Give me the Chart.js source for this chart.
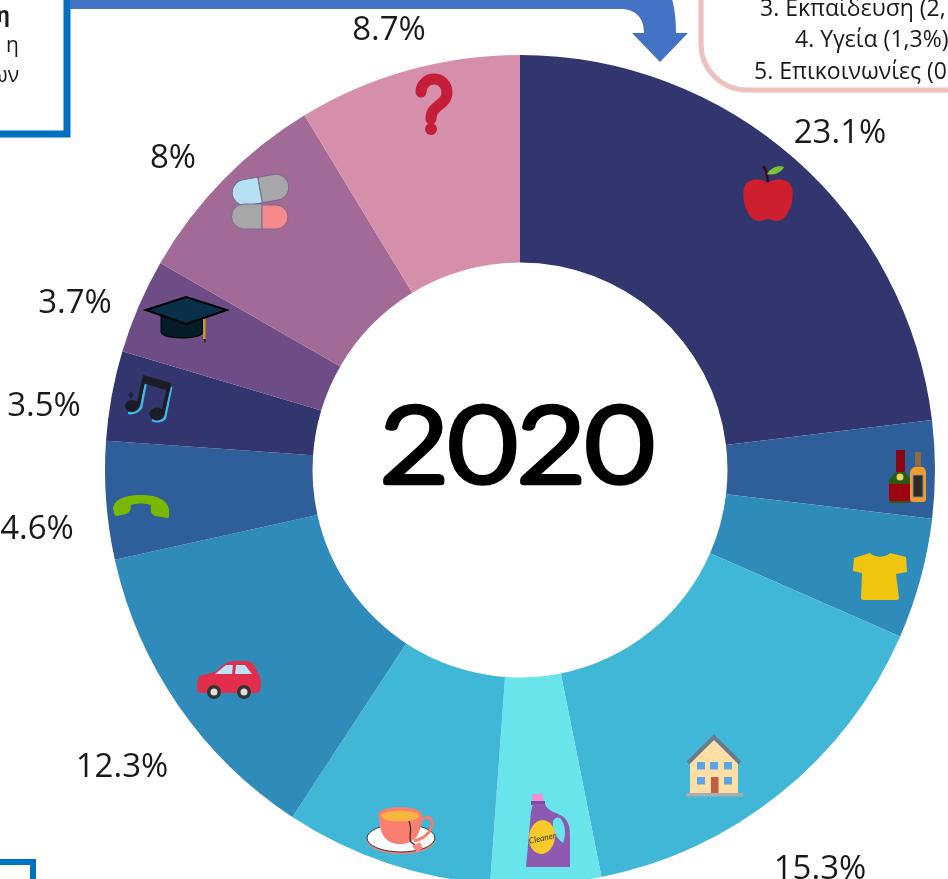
<!DOCTYPE html>
<html lang="el">
<head>
<meta charset="utf-8">
<title>2020</title>
<script src="https://cdn.jsdelivr.net/npm/chart.js@4"></script>
<style>
html,body{margin:0;padding:0;width:948px;height:879px;overflow:hidden;background:#fff}
#stage{position:relative;width:948px;height:879px;overflow:hidden}
canvas{position:absolute;left:0;top:0}
svg{position:absolute;left:0;top:0}
</style>
</head>
<body>
<div id="stage">
<canvas id="c" width="1040" height="940"></canvas>
<svg id="o" width="948" height="879" viewBox="0 0 948 879" xmlns="http://www.w3.org/2000/svg">
  <!-- annotation boxes -->
  <rect x="-20" y="-20" width="87" height="154" fill="#fff" stroke="#0070C0" stroke-width="7"/>
  <g font-family="'Open Sans'" font-size="21" fill="#1a1a1a">
    <text x="10" y="22" text-anchor="end" font-weight="700">η</text>
    <text x="19" y="52" text-anchor="end">η</text>
    <text x="19" y="82" text-anchor="end">ων</text>
  </g>
  <path d="M70,-30 H640 C662,-30 676,-10 676,33 H688 L660,62 L632,33 H644 C644,16 634,9 620,9 H70 Z" fill="#4472C4"/>
  <rect x="701" y="-60" width="320" height="150" rx="46" ry="46" fill="#fff" stroke="#EFC0BE" stroke-width="5"/>
  <g font-family="'Open Sans'" font-size="23" fill="#1a1a1a">
    <text x="760" y="16">3. Εκπαίδευση (2,</text>
    <text x="795" y="47">4. Υγεία (1,3%)</text>
    <text x="754" y="79">5. Επικοινωνίες (0</text>
  </g>
  <path d="M-10,862 H33 V890" fill="none" stroke="#0070C0" stroke-width="6"/>

  <!-- centre title -->
  <text x="517" y="482" text-anchor="middle" font-family="Lato" font-weight="300" font-size="104" textLength="274" lengthAdjust="spacingAndGlyphs" fill="#000" stroke="#000" stroke-width="6.5" stroke-linejoin="round" stroke-linecap="round">2020</text>

  <!-- apple -->
  <path d="M768,183 C760,177 747,178 744,188 C741,200 748,221 759,221 C763,221 765,219 768,219 C771,219 773,221 777,221 C788,221 795,200 792,188 C789,178 776,177 768,183 Z" fill="#CE1F2E"/>
  <path d="M763,166 C767,170 767,175 768,182" fill="none" stroke="#3d0a10" stroke-width="2.5"/>
  <path d="M767,174 C771,167 779,165 784,167 C781,173 773,176 767,174 Z" fill="#79C23A"/>

  <!-- bottles -->
  <rect x="896" y="450" width="9" height="24" fill="#8a0512"/>
  <path d="M896,472 H905 L911,480 V500 Q911,503 908,503 H892 Q889,503 889,500 V480 Z" fill="#2b5a10"/>
  <rect x="889" y="484" width="22" height="17" fill="#9b0410"/>
  <circle cx="900" cy="477" r="3.5" fill="#E9D567"/>
  <rect x="915" y="452" width="6" height="16" fill="#8b6a45"/>
  <path d="M914,467 H923 Q926,469 926,473 V499 Q926,502 923,502 H913 Q910,502 910,499 V473 Q910,469 914,467 Z" fill="#EE9C2F"/>
  <rect x="913" y="475" width="10" height="22" fill="#2b2b2b" stroke="#888" stroke-width="1"/>

  <!-- t-shirt -->
  <path d="M870,553 C875,558 885,558 890,553 L906,557 L907,572 L896,574 L899,598 Q899,600 896,600 L864,600 Q861,600 861,598 L862,573 L853,571 L854,558 Z" fill="#F1C40F"/>

  <!-- house -->
  <path d="M690,762 L714,740 L738,762 V793 H690 Z" fill="#FDDFA6"/>
  <path d="M688,763 L714,737 L740,763" fill="none" stroke="#6B7B8A" stroke-width="4"/>
  <rect x="686" y="793" width="57" height="3.5" fill="#A9ADB0"/>
  <rect x="697" y="762" width="8" height="7.5" fill="#5AA5E6"/>
  <rect x="710" y="762" width="8" height="7.5" fill="#5AA5E6"/>
  <rect x="724" y="762" width="8" height="7.5" fill="#5AA5E6"/>
  <rect x="697" y="777" width="8" height="7.5" fill="#5AA5E6"/>
  <rect x="724" y="777" width="8" height="7.5" fill="#5AA5E6"/>
  <rect x="711" y="777" width="7.5" height="16" fill="#BD5F47"/>

  <!-- cup -->
  <ellipse cx="401" cy="840" rx="34" ry="14" fill="#FA7F70"/>
  <ellipse cx="401" cy="838" rx="34" ry="14" fill="#fff" stroke="#333" stroke-width="1"/>
  <path d="M420,821 C430,812 436,821 429,832 C425,838 418,840 414,841" fill="none" stroke="#F37C6F" stroke-width="3"/>
  <path d="M379,814 C379,835 386,844 400,844 C414,844 422,835 422,814 Z" fill="#FA7F70"/>
  <ellipse cx="400" cy="815" rx="22" ry="8" fill="#FA7F70"/>
  <ellipse cx="400" cy="816" rx="19" ry="5.5" fill="#F9B340"/>
  <path d="M409,821 C413,830 408,838 411,842 L419,848" fill="none" stroke="#333" stroke-width="1.3"/>
  <path d="M412,846 L420,842 L423,848 L417,852 Z" fill="#F98A86"/>

  <!-- detergent bottle -->
  <rect x="532" y="794" width="11" height="8" fill="#F391D0"/>
  <rect x="531" y="801" width="14" height="4" fill="#7E4AA5"/>
  <path d="M533,804 H545 C548,812 556,812 562,816 C568,820 570,826 570,836 V867 H526 L531,812 Q532,808 533,804 Z" fill="#8E59B0"/>
  <path d="M560,818 C566,824 566,836 563,843 C556,838 552,830 553,821 Q556,816 560,818 Z" fill="#69E4EA"/>
  <ellipse cx="542" cy="837" rx="13" ry="17" transform="rotate(8 542 837)" fill="#F8C92A"/>
  <text x="542" y="841" text-anchor="middle" font-family="Lato" font-style="italic" font-size="8.5" fill="#333" transform="rotate(-12 542 837)">Cleaner</text>

  <!-- car -->
  <path d="M197,684 L199,676 L215,672 L226,663 Q229,661 234,661 L246,661 Q250,661 254,665 L259,675 Q261,678 261,684 L260,691 Q259,693 256,693 L201,693 Q197,693 197,689 Z" fill="#E12E4A"/>
  <path d="M215,674 L226,665 L233,665 L232,674 Z" fill="#BFE0F5"/>
  <path d="M236,665 L245,665 L252,674 L235,674 Z" fill="#BFE0F5"/>
  <circle cx="214" cy="692" r="7" fill="#333"/><circle cx="214" cy="692" r="3.5" fill="#ddd"/>
  <circle cx="244" cy="692" r="7" fill="#333"/><circle cx="244" cy="692" r="3.5" fill="#ddd"/>

  <!-- phone -->
  <path d="M113,508 C115,497 130,495 142,495 C155,495 168,499 169,510 L169,517 Q169,518 167,518 L155,516 C151,514 150,511 151,505 C145,503 136,503 131,505 C131,511 129,513 126,514 L117,516 Q114,516 114,513 Z" fill="#7AB800"/>

  <!-- music notes -->
  <path d="M146,382 L171,388 L165,418 Q160,423 152,420" fill="none" stroke="#3FB7E8" stroke-width="2.5"/>
  <path d="M146,382 L141,408 Q136,414 128,413" fill="none" stroke="#3FB7E8" stroke-width="2.5"/>
  <path d="M143,375 L171,383 L170,391 L142,383 Z" fill="#1c1c24"/>
  <path d="M144,378 L138,406" stroke="#1c1c24" stroke-width="3.5" fill="none"/>
  <path d="M169,386 L163,413" stroke="#1c1c24" stroke-width="3.5" fill="none"/>
  <ellipse cx="132" cy="406" rx="7" ry="6" fill="#1c1c24"/>
  <ellipse cx="157" cy="414" rx="7.5" ry="6.5" fill="#1c1c24"/>
  <path d="M131,392 V399 M128,395 H134 M129,393 L133,397 M133,393 L129,397" stroke="#1c1c24" stroke-width="1" fill="none"/>

  <!-- graduation cap -->
  <path d="M161,314 V332 C161,340 203,340 203,332 V314 Z" fill="#031C28" stroke="#000" stroke-width="1"/>
  <path d="M146,310 L186,297 L227,310 L186,324 Z" fill="#0A3049" stroke="#000" stroke-width="2"/>
  <rect x="203" y="319" width="2.5" height="20" fill="#C79A1A"/>
  <path d="M203,339 H206 L205,343 Z" fill="#222"/>

  <!-- pills -->
  <g stroke="#7a6a8c" stroke-width="1">
    <g transform="rotate(-10 260 190)">
      <path d="M260,177 H276 A13,13 0 0 1 276,203 H260 Z" fill="#A7A7A9"/>
      <path d="M260,177 H245 A13,13 0 0 0 245,203 H260 Z" fill="#B5E0F3"/>
    </g>
    <path d="M262,204 H244 A12.5,12.5 0 0 0 244,229 H262 Z" fill="#A7A7A9"/>
    <path d="M262,205 H276 A12,12 0 0 1 276,229 H262 Z" fill="#F58A8E"/>
  </g>

  <!-- question mark -->
  <path d="M421,92 A13,13 0 0 1 447,92 C447,106 431,104 431,119" fill="none" stroke="#C41E3A" stroke-width="11" stroke-linecap="round"/>
  <circle cx="431" cy="129" r="6" fill="#C41E3A"/>
</svg>
</div>
<script>
const categories = ['Τρόφιμα','Αλκοολούχα','Ένδυση','Στέγαση','Οικιακός εξοπλισμός','Ξενοδοχεία-εστιατόρια','Μεταφορές','Επικοινωνίες','Αναψυχή','Εκπαίδευση','Υγεία','Άλλα'];
const shares = [23.1,3.8,4.7,15.3,4.3,8.1,12.3,4.6,3.5,3.7,8,8.7];
const sliceColors = ['#32356E','#2F5F9B','#2E8BBA','#41B7D8','#69E4EA','#41B7D8','#2E8BBA','#2F5F9B','#32356E','#6E4C85','#A26A96','#D68FAA'];
const labelled = [0,3,6,7,8,9,10,11];
const labelOffsets = [[320,-336],[300,400],[-398,298],[-483,60],[-476,-63],[-445,-166],[-347,-311],[-131,-439]];

const shareLabels = {
  id:'shareLabels',
  afterDraw(chart){
    const ctx = chart.ctx, arc = chart.getDatasetMeta(0).data[0];
    ctx.save();
    ctx.font = '33px "Open Sans"';
    ctx.fillStyle = '#1a1a1a';
    ctx.textAlign = 'center';
    ctx.textBaseline = 'middle';
    labelled.forEach((idx,i)=>{
      ctx.fillText(shares[idx]+'%', arc.x+labelOffsets[i][0], arc.y+labelOffsets[i][1]);
    });
    ctx.restore();
  }
};

new Chart(document.getElementById('c'),{
  type:'doughnut',
  data:{labels:categories,datasets:[{data:shares,backgroundColor:sliceColors,borderWidth:0}]},
  options:{
    responsive:false,
    animation:false,
    cutout:'50%',
    layout:{padding:{left:105,right:105,top:55,bottom:55}},
    plugins:{legend:{display:false},tooltip:{enabled:false}}
  },
  plugins:[shareLabels]
});
</script>
</body>
</html>
